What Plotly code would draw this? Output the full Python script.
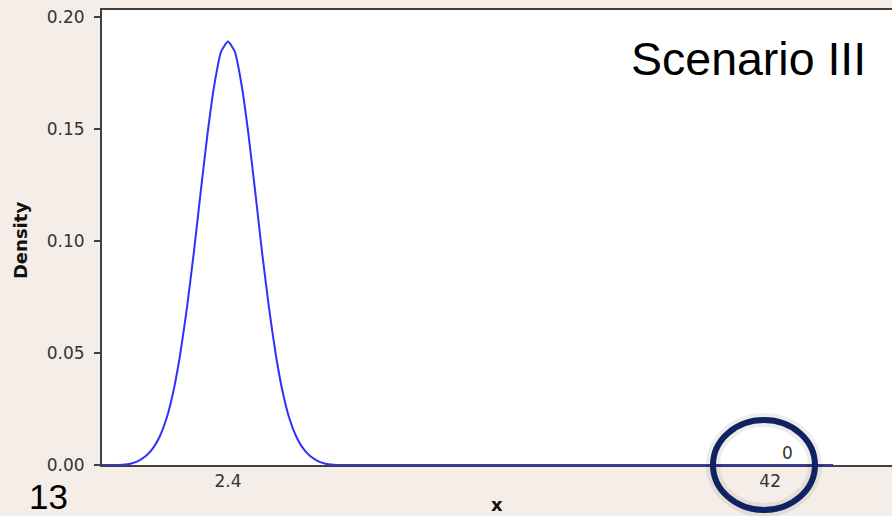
import plotly.graph_objects as go

# Density curve
x_vals = [-6.8, -6.1, -5.6, -5.1, -4.6, -4.1, -3.6, -3.1, -2.6, -2.1, -1.6, -1.1, -0.6,
          -0.1, 0.4, 0.9, 1.4, 1.9, 2.4, 2.9, 3.4, 3.9, 4.4, 4.9, 5.4, 5.9, 6.4,
          6.9, 7.4, 7.9, 8.4, 8.9, 9.4, 9.9, 10.4, 10.9, 11.4, 12.4, 46.6]
density = [0.0, 0.0, 0.0, 0.0002, 0.0008, 0.0020, 0.0040, 0.0073, 0.0125, 0.0205,
           0.0325, 0.0490, 0.0700, 0.0945, 0.1215, 0.1475, 0.1695, 0.1845, 0.189,
           0.1845, 0.1695, 0.1475, 0.1215, 0.0945, 0.0700, 0.0490, 0.0325, 0.0205,
           0.0125, 0.0073, 0.0040, 0.0020, 0.0008, 0.0002, 0.0, 0.0, 0.0, 0.0, 0.0]

x_tickvals = [2.4, 42]
x_ticktext = ["2.4", "42"]
y_tickvals = [0.0, 0.05, 0.10, 0.15, 0.20]
y_ticktext = ["0.00", "0.05", "0.10", "0.15", "0.20"]

BG = "#F5EDE8"
AX = "#404040"
TICKFONT = dict(family="DejaVu Sans", size=17, color="#333333")

fig = go.Figure()
fig.add_trace(go.Scatter(
    x=x_vals, y=density, mode="lines",
    line=dict(color="#3030FF", width=2, shape="spline", smoothing=0.5),
    cliponaxis=False, showlegend=False, hoverinfo="skip"))

fig.update_layout(
    width=892, height=516,
    margin=dict(l=102, r=0, t=10, b=51),
    paper_bgcolor=BG, plot_bgcolor="white",
    xaxis=dict(range=[-6.8, 50.9], tickvals=x_tickvals, ticktext=x_ticktext,
               ticks="", showgrid=False, zeroline=False,
               showline=True, linecolor=AX, linewidth=2, mirror=True,
               tickfont=TICKFONT, layer="below traces", ticklabelstandoff=0),
    yaxis=dict(range=[0, 0.2031], tickvals=y_tickvals, ticktext=y_ticktext,
               ticks="outside", ticklen=6, tickwidth=1.5, tickcolor=AX,
               showgrid=False, zeroline=False,
               showline=True, linecolor=AX, linewidth=2, mirror=False,
               tickfont=TICKFONT, layer="below traces", ticklabelstandoff=6),
    shapes=[
        dict(type="circle", xref="paper", yref="paper",
             x0=0.7734, x1=0.9025, y0=-0.0989, y1=0.0989,
             line=dict(color="rgba(0,0,0,0.07)", width=14)),
        dict(type="circle", xref="paper", yref="paper",
             x0=0.7734, x1=0.9025, y0=-0.0989, y1=0.0989,
             line=dict(color="#0F2262", width=6)),
    ],
    annotations=[
        dict(text="Density", xref="paper", yref="paper", x=-0.104, y=0.494,
             textangle=-90, showarrow=False,
             font=dict(family="DejaVu Sans", size=18, color="#111111", weight="bold"),
             xanchor="center", yanchor="middle"),
        dict(text="x", xref="paper", yref="paper", x=(497 - 102) / 790, y=-40 / 455,
             showarrow=False,
             font=dict(family="DejaVu Sans", size=18, color="#111111", weight="bold"),
             xanchor="center", yanchor="middle"),
        dict(text="0", x=42, y=0, xref="x", yref="y", showarrow=False,
             xshift=17, yshift=12,
             font=TICKFONT, xanchor="center", yanchor="middle"),
        dict(text="Scenario III", xref="paper", yref="paper",
             x=(748.5 - 102) / 790, y=(465 - 59) / 455, showarrow=False,
             font=dict(family="Liberation Sans", size=46.5, color="black"),
             xanchor="center", yanchor="middle"),
        dict(text="13", xref="paper", yref="paper",
             x=(48 - 102) / 790, y=(465 - 496) / 455, showarrow=False,
             font=dict(family="Liberation Sans", size=35, color="black"),
             xanchor="center", yanchor="middle"),
    ],
)

fig.write_html("out.html")
